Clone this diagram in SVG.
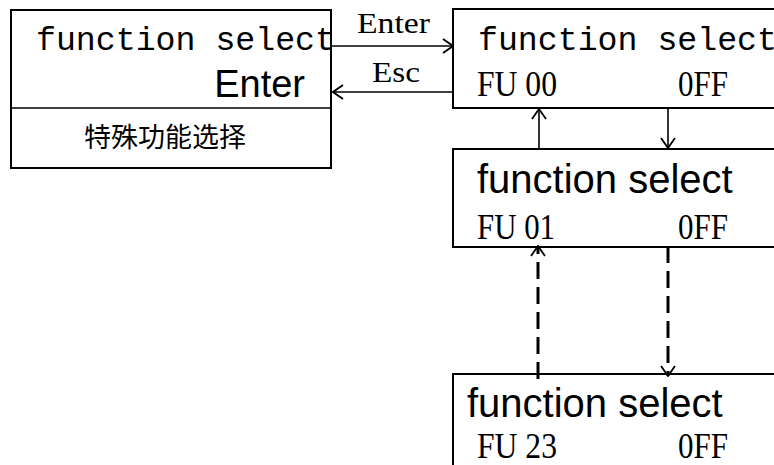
<svg xmlns="http://www.w3.org/2000/svg" width="774" height="465" viewBox="0 0 774 465">
<style>
.box{fill:#fff;stroke:#000;stroke-width:2}
.mono{font-family:"Liberation Mono","DejaVu Sans Mono",monospace;font-size:33px;fill:#000}
.sans{font-family:"Liberation Sans",Arial,sans-serif;fill:#000}
.serif{font-family:"Liberation Serif","Times New Roman",serif;fill:#000}
.cjk{font-family:"Liberation Serif","Noto Sans CJK SC",sans-serif;font-size:27px;fill:#000}
.ln{stroke:#000;stroke-width:1.6;fill:none}
.dash{stroke:#000;stroke-width:3;fill:none;stroke-dasharray:17 8}
</style>
<defs>
<marker id="ah" markerUnits="userSpaceOnUse" viewBox="0 0 12 16" refX="11" refY="8" markerWidth="12" markerHeight="16" orient="auto">
<path d="M1,1 L11,8 L1,15" fill="none" stroke="#000" stroke-width="1.8"/>
</marker>
</defs>
<rect width="774" height="465" fill="#fff"/>
<g id="node-main">
<rect class="box" x="11" y="10" width="320" height="158"/>
<line class="ln" x1="11" y1="108" x2="331" y2="108" stroke-width="2"/>
<text class="mono" x="36" y="50" textLength="299" lengthAdjust="spacingAndGlyphs">function select</text>
<text class="sans" x="305" y="97" font-size="38" text-anchor="end">Enter</text>
<text class="cjk" x="165" y="147" text-anchor="middle">特殊功能选择</text>
</g>
<g id="node-fu00">
<rect class="box" x="453" y="9" width="340" height="99"/>
<text class="mono" x="478" y="50" textLength="299" lengthAdjust="spacingAndGlyphs">function select</text>
<text class="serif" x="477" y="96" font-size="35" textLength="80" lengthAdjust="spacingAndGlyphs">FU 00</text>
<text class="serif" x="678" y="96" font-size="35" textLength="50" lengthAdjust="spacingAndGlyphs">0FF</text>
</g>
<g id="node-fu01">
<rect class="box" x="453" y="149" width="340" height="98"/>
<text class="sans" x="477" y="193" font-size="40">function select</text>
<text class="serif" x="477" y="239" font-size="35" textLength="78" lengthAdjust="spacingAndGlyphs">FU 01</text>
<text class="serif" x="678" y="239" font-size="35" textLength="50" lengthAdjust="spacingAndGlyphs">0FF</text>
</g>
<g id="node-fu23">
<rect class="box" x="453" y="374" width="340" height="120"/>
<text class="sans" x="467" y="417" font-size="40">function select</text>
<text class="serif" x="477" y="458" font-size="35" textLength="80" lengthAdjust="spacingAndGlyphs">FU 23</text>
<text class="serif" x="678" y="458" font-size="35" textLength="50" lengthAdjust="spacingAndGlyphs">0FF</text>
</g>
<g id="connectors">
<line class="ln" x1="331" y1="46" x2="453" y2="46" marker-end="url(#ah)"/>
<text class="serif" x="357" y="33" font-size="30" textLength="73" lengthAdjust="spacingAndGlyphs">Enter</text>
<line class="ln" x1="453" y1="92" x2="333" y2="92" marker-end="url(#ah)"/>
<text class="serif" x="372" y="82" font-size="30" textLength="48" lengthAdjust="spacingAndGlyphs">Esc</text>
<line class="ln" x1="539" y1="149" x2="539" y2="109" marker-end="url(#ah)"/>
<line class="ln" x1="668" y1="108" x2="668" y2="148" marker-end="url(#ah)"/>
<line class="dash" x1="538" y1="379" x2="538" y2="246" marker-end="url(#ah)"/>
<line class="dash" x1="668" y1="246" x2="668" y2="376" marker-end="url(#ah)"/>
</g>
</svg>
